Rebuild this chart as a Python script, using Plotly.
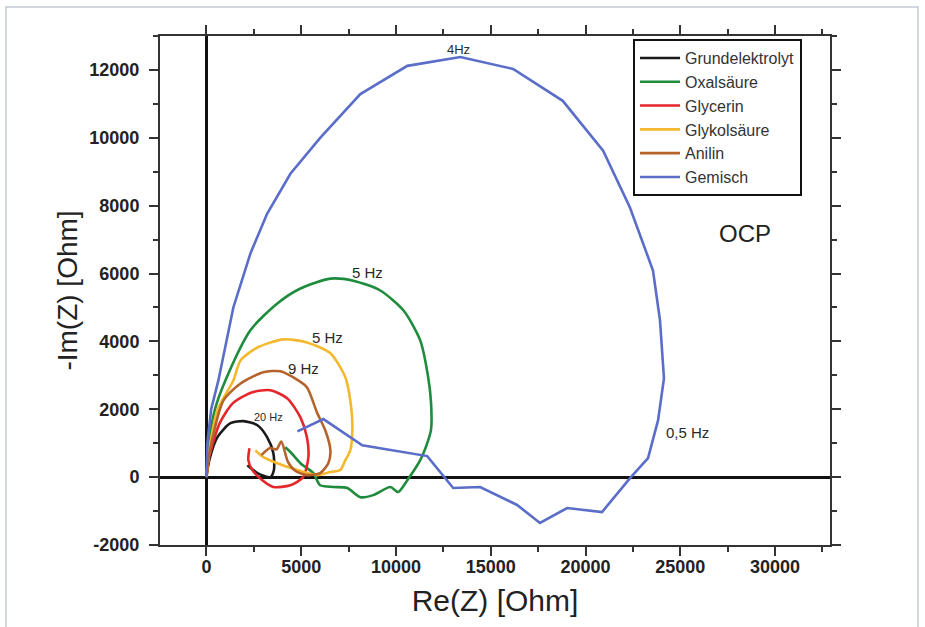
import plotly.graph_objects as go

# ---- data (Ohm) ----
names = ["Grundelektrolyt", "Oxalsäure", "Glycerin", "Glykolsäure", "Anilin", "Gemisch"]
colors = ["#1a1a1a", "#1e8c3c", "#e5262a", "#f4b82e", "#b5632b", "#5a6dc8"]

grund_re = [0, 150, 580, 1270, 1950, 2690, 3200, 3530, 3560, 3370, 2690, 2160]
grund_im = [0, 500, 1180, 1590, 1650, 1530, 1180, 710, 210, 0, 120, 350]

oxal_re = [0, 100, 450, 1000, 2320, 3740, 4960, 6540, 7750, 9170, 10400, 11280, 11700, 11850,
           11850, 11650, 11280, 10600, 10120, 9700, 8800, 8120, 7430, 6700, 6000, 5640, 4960, 4430, 4160]
oxal_im = [0, 900, 2000, 2850, 4330, 5120, 5560, 5850, 5790, 5500, 4910, 4030, 2940, 2200,
           1400, 1000, 500, -90, -440, -290, -530, -590, -320, -290, -240, 120, 410, 740, 880]

glyc_re = [0, 150, 700, 1400, 2420, 3370, 4270, 4960, 5300, 5380, 5100, 4430, 3530, 2950, 2420, 2210, 2270]
glyc_im = [0, 600, 1590, 2180, 2500, 2560, 2320, 1760, 1180, 590, 0, -240, -290, -90, 210, 500, 850]

glykol_re = [0, 150, 600, 1420, 1800, 2690, 4060, 5300, 6540, 7330, 7590, 7700, 7590, 7330, 7060,
             6540, 5850, 4800, 3740, 3000, 2580]
glykol_im = [0, 800, 2000, 2850, 3440, 3820, 4060, 3970, 3650, 2940, 2260, 1470, 790, 500, 210,
             150, 60, 210, 410, 590, 790]

anilin_re = [0, 150, 900, 1800, 3000, 3900, 4700, 5300, 5850, 6270, 6540, 6430, 6000, 5300, 4700,
             4300, 3950, 3700, 3350, 2900]
anilin_im = [0, 700, 2260, 2760, 3090, 3120, 2900, 2650, 1880, 1380, 790, 410, 120, 60, 180,
             450, 1050, 820, 860, 650]

gem_re = [0, 50, 250, 630, 1420, 2320, 3200, 4430, 6000, 8120, 10600, 13400, 16180, 18800, 20930,
          22350, 23560, 23930, 24140, 23830, 23300, 22350, 20870, 19030, 17600, 16390, 14440, 13020,
          11650, 8220, 6170, 4800]
gem_im = [0, 1000, 2000, 2850, 5000, 6590, 7760, 8940, 10000, 11290, 12120, 12380, 12030, 11090, 9620,
          7940, 6090, 4620, 2910, 1680, 560, -30, -1030, -910, -1350, -820, -290, -320,
          620, 940, 1710, 1350]

series_re = [grund_re, oxal_re, glyc_re, glykol_re, anilin_re, gem_re]
series_im = [grund_im, oxal_im, glyc_im, glykol_im, anilin_im, gem_im]
shapes_line = ["spline", "spline", "spline", "spline", "spline", "linear"]

x_ticks = [0, 5000, 10000, 15000, 20000, 25000, 30000]
x_ticklabels = ["0", "5000", "10000", "15000", "20000", "25000", "30000"]
y_ticks = [-2000, 0, 2000, 4000, 6000, 8000, 10000, 12000]
y_ticklabels = ["-2000", "0", "2000", "4000", "6000", "8000", "10000", "12000"]

freq_labels = ["4Hz", "5 Hz", "5 Hz", "9 Hz", "20 Hz", "0,5 Hz"]
freq_x = [13300, 8500, 6380, 5100, 3300, 25400]
freq_y = [12600, 6030, 4120, 3200, 1760, 1320]
freq_size = [13, 15, 15, 15, 11, 15]

FONT = "Liberation Sans, Arial, sans-serif"

fig = go.Figure()
for nm, col, xs, ys, sh in zip(names, colors, series_re, series_im, shapes_line):
    fig.add_trace(go.Scatter(x=xs, y=ys, mode="lines", name=nm,
                             line=dict(color=col, width=2.6, shape=sh, smoothing=0.7 if sh == "spline" else None)))

for t, x, y, s in zip(freq_labels, freq_x, freq_y, freq_size):
    fig.add_annotation(x=x, y=y, text=t, showarrow=False, xref="x", yref="y",
                       font=dict(family=FONT, size=s, color="#2a2a2a"))

fig.add_annotation(x=28400, y=7180, text="OCP", showarrow=False, xref="x", yref="y",
                   font=dict(family=FONT, size=24, color="#222"))

axis_common = dict(showline=True, linecolor="#333", linewidth=2, mirror="allticks",
                   ticks="outside", ticklen=9, tickwidth=2, tickcolor="#333",
                   showgrid=False, zeroline=True, zerolinecolor="#111", zerolinewidth=2.5,
                   tickfont=dict(family=FONT, size=18, color="#222", weight="bold"))

fig.update_xaxes(range=[-2450, 32900], tickmode="array", tickvals=x_ticks, ticktext=x_ticklabels,
                 minor=dict(dtick=2500, tick0=0, ticks="outside", ticklen=5, tickwidth=2, tickcolor="#333"),
                 title=dict(text="Re(Z) [Ohm]", font=dict(family=FONT, size=30, color="#222"), standoff=14),
                 ticklabelstandoff=-5, **axis_common)
fig.update_yaxes(range=[-2000, 13000], tickmode="array", tickvals=y_ticks, ticktext=y_ticklabels,
                 minor=dict(dtick=1000, tick0=0, ticks="outside", ticklen=5, tickwidth=2, tickcolor="#333"),
                 title=dict(text="-Im(Z) [Ohm]", font=dict(family=FONT, size=28, color="#222"), standoff=4),
                 ticklabelstandoff=6, **axis_common)

fig.add_shape(type="rect", xref="paper", yref="paper", x0=-0.2299, x1=1.1313, y0=-0.3, y1=1.057,
              line=dict(color="#c3cad2", width=1.5), fillcolor="rgba(0,0,0,0)", layer="below")

fig.update_layout(
    width=925, height=627,
    margin=dict(l=160, r=95, t=36, b=82),
    paper_bgcolor="white", plot_bgcolor="white",
    showlegend=True,
    legend=dict(x=0.706, y=0.994, xanchor="left", yanchor="top",
                bordercolor="#111", borderwidth=2, bgcolor="white", itemwidth=40,
                font=dict(family=FONT, size=16, color="#333"), tracegroupgap=0),
)

fig.write_html("out.html", config={"displayModeBar": False},
               post_script="document.body.style.margin='0';document.body.style.overflow='hidden';")
